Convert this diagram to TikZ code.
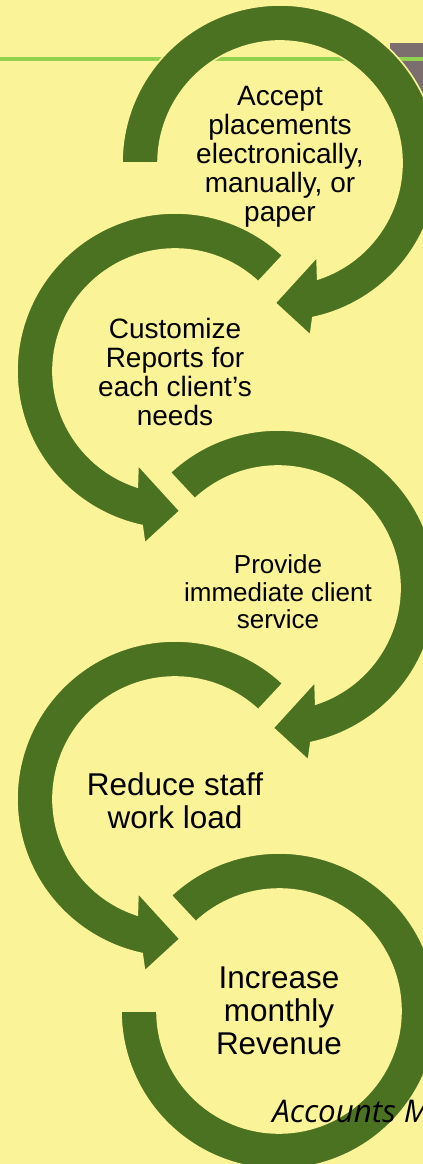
\documentclass[tikz,border=0pt]{standalone}
\usepackage{fontspec}
\setmainfont{Liberation Sans}
\newfontfamily\handfont{Open Sans}
\usepackage{tikz}
\usetikzlibrary{calc}
\definecolor{paper}{RGB}{251,243,152}
\definecolor{leaf}{RGB}{75,114,32}
\definecolor{lime}{RGB}{146,208,80}
\definecolor{taupe}{RGB}{124,110,110}

% one curved arrow round a centre: centre, start angle, side (1 or -1)
\newcommand{\flowarc}[3]{%
  \filldraw[arcband,shift={(#1)},xscale=#3]
    (#2:158) arc[start angle=#2,end angle=258,radius=158]
    -- (260:175) -- (272:140) -- (248.5:101) -- (252:122)
    arc[start angle=252,end angle=#2,radius=122] -- cycle;}

\begin{document}
\begin{tikzpicture}[x=0.75pt,y=0.75pt,
arcband/.style={fill=leaf,draw=paper,line width=1.2pt},
steptext/.style={align=center,inner sep=0pt,text=black},
txtmid/.style={steptext,font=\fontsize{21}{21.75}\selectfont},
txtsmall/.style={steptext,font=\fontsize{19.5}{20.6}\selectfont},
txtbig/.style={steptext,font=\fontsize{23.6}{24.75}\selectfont},
handtxt/.style={inner sep=0pt,font=\handfont\itshape\fontsize{23.5}{27}\selectfont}]
    % Page
    \useasboundingbox (0,0) rectangle (423,1164);
    \clip (0,0) rectangle (423,1164);
    \fill[paper] (0,0) rectangle (423,1164);

    \draw
    (280,1001) coordinate (c1)
    (175,793) coordinate (c2)
    (278,576) coordinate (c3)
    (175,365) coordinate (c4)
    (279,153) coordinate (c5);

    % Header strip
    \fill[taupe] (390,1066) rectangle (423,1121);
    \draw[lime,line width=3pt] (0,1105) -- (423,1105);

    % Arrows
    \flowarc{c1}{0}{-1}
    \flowarc{c2}{47}{1}
    \flowarc{c3}{47}{-1}
    \flowarc{c4}{47}{1}
    \filldraw[arcband,shift={(c5)}] (133:158) arc[start angle=133,end angle=-180,radius=158]
        -- (180:122) arc[start angle=-180,end angle=133,radius=122] -- cycle;

    % Steps
    \node[txtmid] (accept) at ([yshift=5pt]c1) {Accept\\placements\\electronically,\\manually, or\\paper};
    \node[txtmid] (reports) at ([yshift=-1pt]c2) {Customize\\Reports for\\each client’s\\needs};
    \node[txtsmall] (service) at ([yshift=-3pt]c3) {Provide\\immediate client\\service};
    \node[txtbig] (workload) at ([yshift=-1pt]c4) {Reduce staff\\work load};
    \node[txtbig] (revenue) at (c5) {Increase\\monthly\\Revenue};
    \node[handtxt,anchor=base west] (accounts) at (272,41) {Accounts M};

\end{tikzpicture}
\end{document}
